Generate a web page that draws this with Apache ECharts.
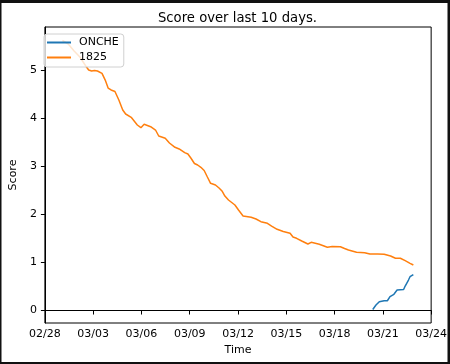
<!DOCTYPE html>
<html>
<head>
<meta charset="utf-8">
<script src="https://cdn.jsdelivr.net/npm/echarts@6/dist/echarts.min.js"></script>
<style>
html,body{margin:0;padding:0;background:#fff;}
#c{width:450px;height:364px;}
</style>
</head>
<body>
<div id="c"></div>
<script>
// ---- data ----
const year = 2023;
const xTickLabels = ['02/28','03/03','03/06','03/09','03/12','03/15','03/18','03/21','03/24'];
const yTickValues = [0, 1, 2, 3, 4, 5];

const orangeName = '1825';
const orangeTimes = [
 '2023-03-01 02:07','2023-03-01 10:50','2023-03-01 19:32','2023-03-02 04:13','2023-03-02 12:56',
 '2023-03-02 17:17','2023-03-02 21:39','2023-03-03 02:00','2023-03-03 06:22','2023-03-03 13:10',
 '2023-03-03 17:57','2023-03-03 22:18','2023-03-04 02:40','2023-03-04 08:28','2023-03-04 14:17',
 '2023-03-04 20:04','2023-03-05 00:26','2023-03-05 08:41','2023-03-05 17:50','2023-03-05 23:12',
 '2023-03-06 03:59','2023-03-06 13:42','2023-03-06 20:57','2023-03-07 01:45','2023-03-07 11:28',
 '2023-03-07 17:43','2023-03-08 02:00','2023-03-08 08:14','2023-03-08 16:29','2023-03-08 21:17',
 '2023-03-09 01:38','2023-03-09 07:00','2023-03-09 11:47','2023-03-09 16:35','2023-03-09 21:30',
 '2023-03-10 02:18','2023-03-10 07:05','2023-03-10 14:21','2023-03-10 19:42','2023-03-11 00:04',
 '2023-03-11 04:25','2023-03-11 09:47','2023-03-11 19:22','2023-03-12 00:43','2023-03-12 07:32',
 '2023-03-12 19:35','2023-03-13 02:50','2023-03-13 10:06','2023-03-13 19:49','2023-03-14 02:04',
 '2023-03-14 10:19','2023-03-14 19:28','2023-03-15 05:37','2023-03-15 09:59','2023-03-15 15:20',
 '2023-03-15 23:02','2023-03-16 08:11','2023-03-16 13:06','2023-03-17 01:09','2023-03-17 13:12',
 '2023-03-17 20:27','2023-03-18 08:38','2023-03-18 14:53','2023-03-18 20:41','2023-03-19 08:44',
 '2023-03-19 20:54','2023-03-20 04:37','2023-03-20 16:13','2023-03-21 01:57','2023-03-21 11:31',
 '2023-03-21 18:46','2023-03-22 02:02','2023-03-22 09:17','2023-03-22 16:32','2023-03-22 21:27'
];
const orangeValues = [
 5.625,5.552,5.406,5.281,5.094,
 5.010,4.990,5.000,4.990,4.940,
 4.800,4.635,4.594,4.563,4.385,
 4.177,4.094,4.025,3.865,3.808,
 3.879,3.829,3.760,3.635,3.588,
 3.490,3.400,3.365,3.288,3.260,
 3.177,3.063,3.031,2.983,2.917,
 2.781,2.650,2.615,2.552,2.490,
 2.385,2.302,2.198,2.094,1.969,
 1.942,1.906,1.850,1.817,1.760,
 1.692,1.646,1.608,1.531,1.504,
 1.448,1.385,1.421,1.379,1.317,
 1.333,1.329,1.292,1.260,1.213,
 1.204,1.177,1.177,1.171,1.135,
 1.088,1.088,1.038,0.983,0.948
];

const blueName = 'ONCHE';
const blueTimes = [
 '2023-03-20 08:57','2023-03-20 13:44','2023-03-20 18:40','2023-03-21 01:55','2023-03-21 06:43',
 '2023-03-21 10:38','2023-03-21 16:26','2023-03-21 21:13','2023-03-22 06:56','2023-03-22 09:16',
 '2023-03-22 14:11','2023-03-22 16:31','2023-03-22 21:27'
];
const blueValues = [
 0.021,0.115,0.183,0.204,0.204,
 0.288,0.338,0.427,0.438,0.510,
 0.635,0.704,0.750
];

// ---- build chart ----
function labelToTime(lbl){
  const p = lbl.split('/');
  return new Date(year, parseInt(p[0],10)-1, parseInt(p[1],10)).getTime();
}
function parseTime(s){
  const m = s.match(/(\d+)-(\d+)-(\d+) (\d+):(\d+)/);
  return new Date(+m[1], +m[2]-1, +m[3], +m[4], +m[5]).getTime();
}
const xTickTimes = xTickLabels.map(labelToTime);
function pairs(t, v){ return t.map((s,i)=>[parseTime(s), v[i]]); }

const FONT = 'DejaVu Sans';
const chart = echarts.init(document.getElementById('c'), null, {renderer:'canvas'});
chart.setOption({
  animation:false,
  backgroundColor:'#fff',
  textStyle:{fontFamily:FONT},
  title:{
    text:'Score over last 10 days.',
    left:232.5, top:7, textAlign:'center',
    textStyle:{fontFamily:FONT, fontSize:13.2, fontWeight:'normal', color:'#000'}
  },
  legend:{
    left:44, top:34, orient:'vertical',
    data:[{name:blueName},{name:orangeName}],
    icon:'rect', itemWidth:24, itemHeight:2, itemGap:2,
    padding:[2,5,3,3],
    borderColor:'#d0d0d0', borderWidth:1, borderRadius:3,
    backgroundColor:'rgba(255,255,255,0.8)',
    textStyle:{fontFamily:FONT, fontSize:11, color:'#000', lineHeight:13, padding:[0,0,0,3]}
  },
  grid:{left:38, right:15, top:27, bottom:41, show:true, borderColor:'#000', borderWidth:1, backgroundColor:'transparent'},
  xAxis:{
    type:'value',
    min:xTickTimes[0], max:xTickTimes[xTickTimes.length-1],
    name:'Time', nameLocation:'middle', nameGap:20,
    nameTextStyle:{fontFamily:FONT, fontSize:11, color:'#000'},
    axisLine:{show:true, lineStyle:{color:'#000', width:1}},
    axisTick:{show:true, length:4, lineStyle:{color:'#000'}, customValues:xTickTimes},
    axisLabel:{
      color:'#000', fontFamily:FONT, fontSize:11, margin:6,
      customValues:xTickTimes,
      formatter:function(v){
        let best = 0;
        for (let i=1;i<xTickTimes.length;i++) if (Math.abs(xTickTimes[i]-v) < Math.abs(xTickTimes[best]-v)) best = i;
        return xTickLabels[best];
      }
    },
    splitLine:{show:false}
  },
  yAxis:{
    type:'value', min:-0.26, max:5.906,
    name:'Score', nameLocation:'middle', nameGap:20, nameRotate:90,
    nameTextStyle:{fontFamily:FONT, fontSize:11, color:'#000'},
    axisLine:{show:true, lineStyle:{color:'#000', width:1}},
    axisTick:{show:true, length:4, lineStyle:{color:'#000'}, customValues:yTickValues},
    axisLabel:{color:'#000', fontFamily:FONT, fontSize:11, margin:8, customValues:yTickValues},
    splitLine:{show:false}
  },
  series:[
    {name:blueName, type:'line', data:pairs(blueTimes, blueValues), showSymbol:false, symbol:'none',
     lineStyle:{color:'#1f77b4', width:1.5}, itemStyle:{color:'#1f77b4'}, z:3},
    {name:orangeName, type:'line', data:pairs(orangeTimes, orangeValues), showSymbol:false, symbol:'none',
     lineStyle:{color:'#ff7f0e', width:1.5}, itemStyle:{color:'#ff7f0e'}, z:2}
  ],
  graphic:[
    {type:'rect', shape:{x:0,y:0,width:450,height:3}, style:{fill:'#111'}, silent:true, z:100},
    {type:'rect', shape:{x:0,y:0,width:1.5,height:364}, style:{fill:'#111'}, silent:true, z:100},
    {type:'rect', shape:{x:0,y:362,width:450,height:2}, style:{fill:'#111'}, silent:true, z:100},
    {type:'rect', shape:{x:447.5,y:0,width:2.5,height:364}, style:{fill:'#111'}, silent:true, z:100}
  ]
});
</script>
</body>
</html>
